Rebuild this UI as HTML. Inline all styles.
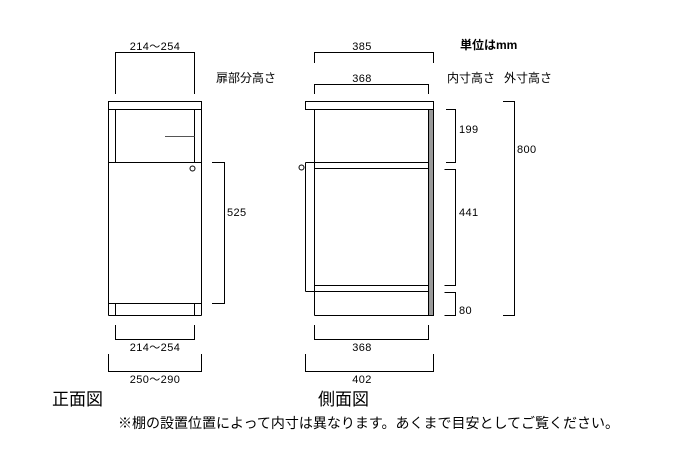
<!DOCTYPE html>
<html><head><meta charset="utf-8">
<style>
html,body{margin:0;padding:0;background:#fff;}
svg{display:block;}
text{font-family:"Liberation Sans","Noto Sans CJK JP",sans-serif;fill:#000;}
.n{font-size:11px;letter-spacing:0.4px;}
.j{font-size:12px;}
</style></head>
<body>
<svg width="700" height="453" viewBox="0 0 700 453" xmlns="http://www.w3.org/2000/svg">
<g fill="none" stroke="#000" stroke-width="1">
  <!-- FRONT VIEW -->
  <path d="M115.5,94 V52.5 H194.5 V94"/>
  <rect x="108.5" y="101.5" width="93" height="8"/>
  <line x1="108.5" y1="109.5" x2="108.5" y2="315.5"/>
  <line x1="201.5" y1="109.5" x2="201.5" y2="315.5"/>
  <line x1="115.5" y1="109.5" x2="115.5" y2="162.5"/>
  <line x1="194.5" y1="109.5" x2="194.5" y2="162.5"/>
  <line x1="165" y1="136.5" x2="194.5" y2="136.5" stroke="#555"/>
  <rect x="108.5" y="162.5" width="93" height="141"/>
  <line x1="108.5" y1="315.5" x2="201.5" y2="315.5"/>
  <line x1="115.5" y1="303.5" x2="115.5" y2="315.5"/>
  <line x1="194.5" y1="303.5" x2="194.5" y2="315.5"/>
  <circle cx="192.5" cy="168.5" r="2.5"/>
  <path d="M212,162.5 H224.5 V303.5 H212"/>
  <path d="M115.5,325 V339.5 H194.5 V325"/>
  <path d="M108.5,354 V371.5 H201.5 V354"/>

  <!-- SIDE VIEW -->
  <path d="M314.5,63 V52.5 H433.5 V63"/>
  <path d="M314.5,94 V84.5 H428.5 V94"/>
  <rect x="305.5" y="101.5" width="128" height="8"/>
  <rect x="428.5" y="109.5" width="5" height="206" fill="#999"/>
  <line x1="314.5" y1="109.5" x2="314.5" y2="315.5"/>
  <line x1="314.5" y1="315.5" x2="433.5" y2="315.5"/>
  <line x1="305.5" y1="162.5" x2="428.5" y2="162.5"/>
  <line x1="314.5" y1="168.5" x2="428.5" y2="168.5"/>
  <line x1="314.5" y1="285.5" x2="428.5" y2="285.5"/>
  <line x1="305.5" y1="291.5" x2="428.5" y2="291.5"/>
  <line x1="305.5" y1="162.5" x2="305.5" y2="291.5"/>
  <circle cx="301.5" cy="167.5" r="2.5"/>
  <path d="M446,109.5 H455.5 V162.5 H446"/>
  <path d="M444.5,169.5 H455.5 V285.5 H444.5"/>
  <path d="M444.5,292.5 H455.5 V315.5 H444.5"/>
  <path d="M503,101.5 H514.5 V315.5 H503"/>
  <path d="M314.5,325 V339.5 H428.5 V325"/>
  <path d="M305.5,354 V371.5 H433.5 V354"/>
</g>

<!-- front texts -->
<text class="n" x="155" y="50" text-anchor="middle">214～254</text>
<text class="j" x="216" y="82">扉部分高さ</text>
<text class="n" x="227" y="216">525</text>
<text class="n" x="155" y="351" text-anchor="middle">214～254</text>
<text class="n" x="155" y="383" text-anchor="middle">250～290</text>
<text x="52" y="405" style="font-size:17px;">正面図</text>

<!-- side texts -->
<text class="n" x="362" y="50" text-anchor="middle">385</text>
<text class="n" x="362" y="82" text-anchor="middle">368</text>
<text x="460" y="49" style="font-size:12px;font-weight:bold;">単位はmm</text>
<text class="j" x="447" y="82">内寸高さ</text>
<text class="j" x="504" y="82">外寸高さ</text>
<text class="n" x="459" y="133">199</text>
<text class="n" x="517" y="153">800</text>
<text class="n" x="459" y="216">441</text>
<text class="n" x="459" y="314">80</text>
<text class="n" x="362" y="351" text-anchor="middle">368</text>
<text class="n" x="362" y="383" text-anchor="middle">402</text>
<text x="318" y="405" style="font-size:17px;">側面図</text>

<text x="118" y="428" style="font-size:14px;">※棚の設置位置によって内寸は異なります。あくまで目安としてご覧ください。</text>
</svg>
</body></html>
